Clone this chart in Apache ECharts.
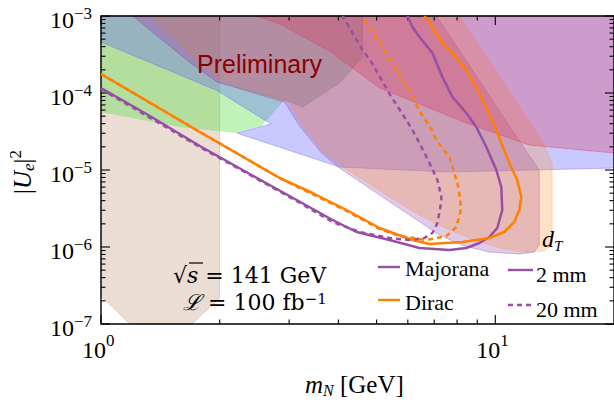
<!DOCTYPE html>
<html><head><meta charset="utf-8">
<script src="https://cdn.jsdelivr.net/npm/echarts@6/dist/echarts.min.js"></script>
<style>html,body{margin:0;padding:0;background:#fff}#c{width:614px;height:405px}</style>
</head><body><div id="c"></div>
<script>
// ---------------- data ----------------
const X_MIN = 1, X_MAX = 20, Y_MIN = 1e-7, Y_MAX = 1e-3;
const xMajorTicks = [1, 10];
const xTickExponents = ['0', '1'];
const xMinorTicks = [2, 3, 4, 5, 6, 7, 8, 9];
const yMajorTicks = [1e-7, 1e-6, 1e-5, 1e-4, 1e-3];
const yTickExponents = ['\u22127', '\u22126', '\u22125', '\u22124', '\u22123'];
const yMinorTicks = [2e-7,3e-7,4e-7,5e-7,6e-7,7e-7,8e-7,9e-7,
                     2e-6,3e-6,4e-6,5e-6,6e-6,7e-6,8e-6,9e-6,
                     2e-5,3e-5,4e-5,5e-5,6e-5,7e-5,8e-5,9e-5,
                     2e-4,3e-4,4e-4,5e-4,6e-4,7e-4,8e-4,9e-4];

// shaded regions [m_N (GeV), |U_e|^2]
const beigeRegion = [[1,1e-3],[2,1e-3],[2,2.18e-7],[1.70,1e-7],[1.184,1e-7],[1,2.31e-7]];
const greenRegion = [[1,1e-3],[1,5.66e-5],[1.585,3.62e-5],[2.184,3.02e-5],[2.556,3.75e-5],[2.923,8.11e-5],[1.967,1.39e-4],[1.651,2.68e-4],[1.205,1e-3]];
const blueRegion  = [[1,1e-3],[1,4.60e-4],[1.967,1.08e-4],[2.700,3.96e-5],[2.210,3.02e-5],[4.028,1.09e-5],[7.649,9.42e-6],[20,1.06e-5],[20,1e-3]];
const purpleRegion = [[1.205,1e-3],[1.651,2.68e-4],[1.967,1.39e-4],[2.923,7.6e-5],[3.18,3.8e-5],[3.626,1.66e-5],[4.028,1.06e-5],[5.087,4.73e-6],[6.058,2.60e-6],[7.215,1.43e-6],[8.347,1.03e-6],[9.657,8.61e-7],[11.50,8.11e-7],[12.55,8.61e-7],[12.92,1.06e-6],[12.92,1e-5],[11.50,2.38e-5],[7.088,1e-3]];
const orangeRegion = [[1.331,1e-3],[1.70,3.0e-4],[2.0,1.45e-4],[3.0,7.6e-5],[3.25,3.8e-5],[3.66,1.72e-5],[4.147,1.06e-5],[5.392,4.46e-6],[6.535,2.45e-6],[7.649,1.66e-6],[8.846,1.23e-6],[10.24,9.7e-7],[11.84,8.61e-7],[13.31,8.8e-7],[13.94,1.09e-6],[13.94,1.23e-5],[13.15,2.38e-5],[8.108,1e-3]];
const grayRegion = [[1.205,1e-3],[1.651,2.68e-4],[1.967,1.39e-4],[2.923,8.11e-5],[3.246,6.58e-5],[4.028,1.35e-4],[4.606,2.93e-4],[4.606,1e-3]];
const redRegion = [[2.483,1e-3],[2.840,7.87e-4],[3.799,3.51e-4],[5.087,1.161e-4],[6.421,7.20e-5],[8.446,4.08e-5],[12.19,2.11e-5],[20,1.66e-5],[20,1e-3]];

// sensitivity curves
const majorana2mm = [[1.0,1.161e-4],[1.3305,5.026e-5],[1.7807,2.050e-5],[2.3837,8.874e-6],[3.135,4.077e-6],[3.867,2.242e-6],[4.4486,1.566e-6],[5.3917,1.233e-6],[6.4209,9.705e-7],[7.6485,9.142e-7],[8.4453,9.705e-7],[9.1104,1.127e-6],[9.6565,1.349e-6],[10.117,1.765e-6],[10.416,3.024e-6],[10.356,6.015e-6],[10.059,1.0e-5],[9.4896,1.989e-5],[8.949,3.618e-5],[8.4453,5.497e-5],[7.7835,8.874e-5],[7.3425,1.613e-4],[6.9268,3.307e-4],[6.4209,5.337e-4],[6.1646,7.197e-4],[5.9874,1.0e-3]];
const dirac2mm = [[1.0,1.765e-4],[1.7807,3.115e-5],[2.8396,7.873e-6],[3.441,5.026e-6],[4.1968,3.024e-6],[5.0866,1.765e-6],[6.1646,1.233e-6],[6.8067,1.094e-6],[8.2507,1.161e-6],[9.6565,1.309e-6],[10.538,1.566e-6],[11.170,2.113e-6],[11.501,3.024e-6],[11.636,4.459e-6],[11.368,7.419e-6],[10.850,1.233e-5],[10.059,3.307e-5],[9.1104,1.0e-4],[8.4453,1.989e-4],[7.7835,3.307e-4],[7.3425,4.459e-4],[6.9268,7.197e-4],[6.6111,1.0e-3]];
const majorana20mm = [[1.0,1.127e-4],[1.7807,1.989e-5],[3.135,3.957e-6],[3.867,2.113e-6],[4.5271,1.566e-6],[5.3917,1.309e-6],[6.0576,1.233e-6],[6.6111,1.309e-6],[6.9268,1.520e-6],[7.1315,2.050e-6],[7.2574,3.307e-6],[7.2999,4.459e-6],[7.1315,7.419e-6],[6.8067,1.233e-5],[6.4209,2.242e-5],[6.1646,3.307e-5],[5.8153,5.337e-5],[5.3917,9.705e-5],[4.8834,2.380e-4],[4.6069,3.618e-4],[4.1003,1.0e-3]];
const dirac20mm = [[1.0,1.765e-4],[1.7807,3.115e-5],[2.8396,7.873e-6],[4.1968,2.934e-6],[5.0866,1.713e-6],[5.7147,1.390e-6],[6.6887,1.233e-6],[7.5158,1.390e-6],[7.9671,1.818e-6],[8.155,2.848e-6],[8.155,4.077e-6],[8.0136,6.782e-6],[7.6485,1.475e-5],[7.0901,2.453e-5],[6.9268,3.210e-5],[6.4209,5.836e-5],[6.0576,1.062e-4],[5.4869,2.380e-4],[4.9985,5.337e-4],[4.6069,9.705e-4]];

// ---------------- styles ----------------
const PURPLE = '#984ea3', ORANGE = '#ff7f00';
const SERIF = '"Liberation Serif", "DejaVu Serif", serif';
const FAM = 'Liberation Serif';
const DJ = 'DejaVu Serif';

const chart = echarts.init(document.getElementById('c'), null, {renderer: 'svg'});

function polySeries(pts, fill, stroke) {
  return {
    type: 'custom', coordinateSystem: 'cartesian2d', data: pts, silent: true, animation: false,
    encode: {x: 0, y: 1},
    renderItem: function (params, api) {
      if (params.dataIndex !== 0) return null;
      const points = pts.map(p => api.coord(p));
      return {type: 'polygon', shape: {points: points}, style: {fill: fill, stroke: stroke, lineWidth: 0.8}};
    }
  };
}
function lineSeries(pts, color, dashed) {
  return {
    type: 'line', data: pts, showSymbol: false, symbol: 'none', animation: false, silent: true,
    clip: true,
    lineStyle: {color: color, width: 2.5, type: dashed ? [5, 4] : 'solid', cap: 'butt', join: 'round'}
  };
}
function tickSeries(vals, axis, len) {
  return {
    type: 'custom', coordinateSystem: 'cartesian2d', silent: true, animation: false,
    data: vals.map(v => axis === 'x' ? [v, Y_MIN] : [X_MIN, v]),
    encode: {x: 0, y: 1},
    renderItem: function (params, api) {
      const v = vals[params.dataIndex];
      const st = {stroke: '#000', lineWidth: 1.1};
      if (axis === 'x') {
        const b = api.coord([v, Y_MIN]), t = api.coord([v, Y_MAX]);
        return {type: 'group', children: [
          {type: 'line', shape: {x1: b[0], y1: b[1], x2: b[0], y2: b[1] - len}, style: st},
          {type: 'line', shape: {x1: t[0], y1: t[1], x2: t[0], y2: t[1] + len}, style: st}]};
      } else {
        const l = api.coord([X_MIN, v]), r = api.coord([X_MAX, v]);
        return {type: 'group', children: [
          {type: 'line', shape: {x1: l[0], y1: l[1], x2: l[0] + len, y2: l[1]}, style: st},
          {type: 'line', shape: {x1: r[0], y1: r[1], x2: r[0] - len, y2: r[1]}, style: st}]};
      }
    }
  };
}
function labelSeries(vals, exps, axis) {
  return {
    type: 'custom', coordinateSystem: 'cartesian2d', silent: true, animation: false,
    data: vals.map(v => axis === 'x' ? [v, Y_MIN] : [X_MIN, v]),
    encode: {x: 0, y: 1},
    renderItem: function (params, api) {
      const v = vals[params.dataIndex], e = exps[params.dataIndex];
      let p, bx, by, ex, ey;
      if (axis === 'x') { p = api.coord([v, Y_MIN]); bx = p[0] + 5; by = p[1] + 26; ex = p[0] + 5; ey = p[1] + 16; }
      else { p = api.coord([X_MIN, v]); bx = p[0] - 27; by = p[1] + 4; ex = p[0] - 27; ey = p[1] - 3; }
      return {type: 'group', children: [
        {type: 'text', style: {text: '10', x: bx, y: by, align: 'right', verticalAlign: 'middle', font: '24px ' + SERIF, fill: '#000'}},
        {type: 'text', style: {text: e, x: ex, y: ey, align: 'left', verticalAlign: 'middle', font: '17px ' + SERIF, fill: '#000'}}]};
    }
  };
}
function frameSeries() {
  return {
    type: 'custom', coordinateSystem: 'cartesian2d', silent: true, animation: false,
    data: [[X_MIN, Y_MIN]], encode: {x: 0, y: 1},
    renderItem: function (params, api) {
      const a = api.coord([X_MIN, Y_MAX]), b = api.coord([X_MAX, Y_MIN]);
      return {type: 'rect', shape: {x: a[0], y: a[1], width: b[0] - a[0], height: b[1] - a[1]},
        style: {fill: 'none', stroke: '#000', lineWidth: 1.4}};
    }
  };
}

const series = [
  polySeries(beigeRegion, 'rgba(170,120,80,0.25)', 'rgba(170,120,80,0.35)'),
  polySeries(greenRegion, 'rgba(100,225,80,0.40)', 'rgba(100,225,80,0.0)'),
  polySeries(blueRegion, 'rgba(100,100,255,0.35)', 'rgba(100,100,255,0.5)'),
  polySeries(purpleRegion, 'rgba(150,80,180,0.30)', 'rgba(150,80,180,0.5)'),
  polySeries(orangeRegion, 'rgba(255,140,40,0.26)', 'rgba(255,140,40,0.3)'),
  polySeries(grayRegion, 'rgba(115,105,110,0.27)', 'rgba(115,105,110,0.3)'),
  polySeries(redRegion, 'rgba(220,50,90,0.30)', 'rgba(220,50,90,0.45)'),
  lineSeries(majorana2mm, PURPLE, false),
  lineSeries(dirac2mm, ORANGE, false),
  lineSeries(majorana20mm, PURPLE, true),
  lineSeries(dirac20mm, ORANGE, true),
  tickSeries(xMajorTicks, 'x', 9),
  tickSeries(xMinorTicks, 'x', 4.5),
  tickSeries(yMajorTicks, 'y', 9),
  tickSeries(yMinorTicks, 'y', 4.5),
  labelSeries(xMajorTicks, xTickExponents, 'x'),
  labelSeries(yMajorTicks, yTickExponents, 'y'),
  frameSeries()
];

const txt = (x, y, text, font, extra) => Object.assign({type: 'text', silent: true, z: 100,
  style: Object.assign({text: text, x: x, y: y, font: font, fill: '#000', verticalAlign: 'middle', align: 'left'}, extra || {})});
const ln = (x1, y1, x2, y2, color, dash) => ({type: 'line', silent: true, z: 100,
  shape: {x1: x1, y1: y1, x2: x2, y2: y2}, style: {stroke: color, lineWidth: 2.4, lineDash: dash || null}});
const rich = {
  n: {fontFamily: DJ, fontSize: 22, lineHeight: 22, verticalAlign: 'middle', fill: '#000'},
  i: {fontFamily: DJ, fontSize: 22, fontStyle: 'italic', lineHeight: 22, verticalAlign: 'middle', fill: '#000'},
  l: {fontFamily: DJ, fontSize: 22, fontStyle: 'italic', lineHeight: 22, verticalAlign: 'middle', fill: '#000'},
  s: {fontFamily: DJ, fontSize: 15, lineHeight: 10, verticalAlign: 'top', fill: '#000'}
};

const graphics = [
  // Preliminary
  txt(197, 64, 'Preliminary', '25px "Liberation Sans", Arial, sans-serif', {fill: '#8b0000'}),
  // sqrt(s)
  {type: 'text', silent: true, z: 100, style: {x: 173, y: 275, text: '{n|\u221A}{i|s}{n| = 141 GeV}', rich: rich, verticalAlign: 'middle'}},
  {type: 'line', silent: true, z: 100, shape: {x1: 189, y1: 263, x2: 203, y2: 263}, style: {stroke: '#000', lineWidth: 1.2}},
  // luminosity
  {type: 'text', silent: true, z: 100, style: {x: 183, y: 302, text: '{l|\u2112}{n| = 100 fb}{s|\u22121}', rich: rich, verticalAlign: 'middle'}},
  // legend
  ln(378, 267, 400, 267, PURPLE), txt(405, 268, 'Majorana', '22px ' + SERIF),
  ln(378, 300, 400, 300, ORANGE), txt(405, 302, 'Dirac', '22px ' + SERIF),
  ln(508, 270, 533, 270, PURPLE), txt(536, 274, '2 mm', '22px ' + SERIF),
  ln(508, 305, 533, 305, PURPLE, [5, 4]), txt(536, 309, '20 mm', '22px ' + SERIF),
  // d_T
  {type: 'text', silent: true, z: 100, style: {x: 542, y: 240, text: '{d|d}{t|T}', verticalAlign: 'middle',
    rich: {d: {fontFamily: FAM, fontSize: 24, fontStyle: 'italic', lineHeight: 26, verticalAlign: 'top', fill: '#000'},
           t: {fontFamily: FAM, fontSize: 15, fontStyle: 'italic', lineHeight: 14, verticalAlign: 'bottom', fill: '#000'}}}},
  // x title
  {type: 'text', silent: true, z: 100, style: {x: 305, y: 385, text: '{m|m}{N|N}{g| [GeV]}', verticalAlign: 'middle',
    rich: {m: {fontFamily: FAM, fontSize: 25, fontStyle: 'italic', lineHeight: 26, verticalAlign: 'top', fill: '#000'},
           N: {fontFamily: FAM, fontSize: 16, fontStyle: 'italic', lineHeight: 14, verticalAlign: 'bottom', fill: '#000'},
           g: {fontFamily: FAM, fontSize: 25, lineHeight: 26, verticalAlign: 'top', fill: '#000'}}}},
  // y title (rotated)
  {type: 'text', silent: true, z: 100, x: 22, y: 172, rotation: Math.PI / 2,
    style: {x: 0, y: 0, align: 'center', verticalAlign: 'middle', text: '{b||}{u|U}{e|e}{b||}{s|2}',
      rich: {b: {fontFamily: FAM, fontSize: 25, lineHeight: 30, verticalAlign: 'middle', fill: '#000'},
             u: {fontFamily: FAM, fontSize: 25, fontStyle: 'italic', lineHeight: 30, verticalAlign: 'middle', fill: '#000'},
             e: {fontFamily: FAM, fontSize: 17, fontStyle: 'italic', lineHeight: 14, verticalAlign: 'bottom', fill: '#000'},
             s: {fontFamily: FAM, fontSize: 17, lineHeight: 14, verticalAlign: 'top', fill: '#000'}}}}
];

chart.setOption({
  animation: false,
  grid: {left: 101, top: 16, width: 513, height: 308, show: false},
  xAxis: {type: 'log', logBase: 10, min: X_MIN, max: X_MAX, show: false},
  yAxis: {type: 'log', logBase: 10, min: Y_MIN, max: Y_MAX, show: false},
  series: series,
  graphic: graphics
});
</script>
</body></html>
